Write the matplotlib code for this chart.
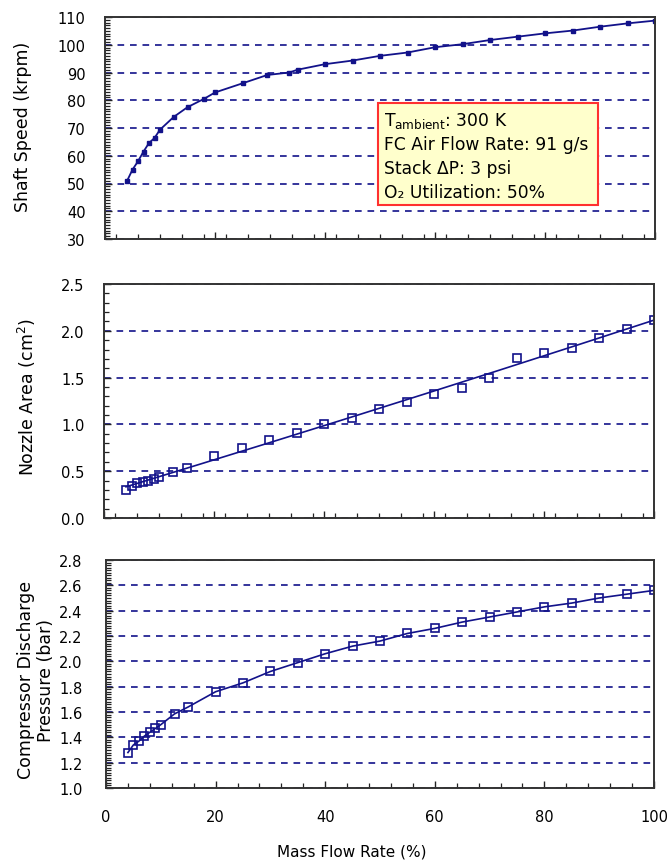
import numpy as np
import matplotlib
matplotlib.use("Agg")
import matplotlib.pyplot as plt
from matplotlib.ticker import MultipleLocator, FixedLocator, FormatStrFormatter
from matplotlib.patches import Rectangle

plt.rcParams['font.family'] = ['DejaVu Sans']

# shaft speed vs. mass flow (top panel)
speed_flow = [4, 5, 6, 7, 8, 9, 10, 12.5, 15, 18, 20, 25, 29.5, 33.5, 35, 40,
              45, 50, 55, 60, 65, 70, 75, 80, 85, 90, 95, 100]
speed = [50.9, 55.0, 58.0, 61.5, 64.6, 66.4, 69.4, 74.0, 77.5, 80.5, 82.8,
         86.1, 89.1, 90.0, 91.0, 93.0, 94.3, 96.0, 97.2, 99.1, 100.2, 101.7,
         102.9, 104.1, 105.1, 106.5, 107.7, 108.7]

# nozzle area and discharge pressure share the same flow points
flow = [4, 5, 6, 7, 8, 9, 10, 12.5, 15, 20, 25, 30, 35, 40, 45, 50, 55, 60,
        65, 70, 75, 80, 85, 90, 95, 100]
area = [0.30, 0.34, 0.37, 0.38, 0.40, 0.42, 0.44, 0.49, 0.53, 0.66, 0.75,
        0.83, 0.91, 1.00, 1.07, 1.16, 1.24, 1.33, 1.39, 1.50, 1.71, 1.76,
        1.82, 1.92, 2.02, 2.12]
pressure = [1.28, 1.34, 1.37, 1.41, 1.44, 1.47, 1.50, 1.585, 1.64, 1.76, 1.83,
            1.92, 1.99, 2.06, 2.12, 2.16, 2.22, 2.26, 2.31, 2.35, 2.39, 2.43,
            2.46, 2.50, 2.53, 2.56]

x_major = [0, 20, 40, 60, 80, 100]

navy = '#12128a'
W, H = 667, 862


def px_axes(fig, left, top, right, bottom):
    return fig.add_axes([left / W, 1 - bottom / H, (right - left) / W, (bottom - top) / H])


def style(ax, ylim, ymajor, yminor, xminor, ypad, show_x):
    ax.set_xlim(0, 100)
    ax.set_ylim(*ylim)
    ax.yaxis.set_major_locator(MultipleLocator(ymajor))
    ax.yaxis.set_minor_locator(MultipleLocator(yminor))
    ax.xaxis.set_major_locator(FixedLocator(x_major))
    ax.xaxis.set_minor_locator(FixedLocator(xminor))
    ax.tick_params(which='both', direction='in', width=1, color='#222222')
    ax.tick_params(which='major', length=5)
    ax.tick_params(which='minor', length=3.5, width=0.9)
    ax.tick_params(axis='y', pad=ypad, labelsize=10.5)
    ax.tick_params(axis='x', pad=15, labelsize=10.5, labelbottom=show_x)
    for s in ax.spines.values():
        s.set_linewidth(1.4)
        s.set_color('#333333')
    ax.yaxis.grid(True, color=navy, linestyle=(0, (4, 3.5)), linewidth=1.2)
    ax.set_axisbelow(True)


fig = plt.figure(figsize=(W / 100, H / 100), dpi=100)

# --- shaft speed ---
ax1 = px_axes(fig, 105, 18, 655, 240)
style(ax1, (30, 110), 10, 1, np.arange(2, 100, 4), 14, False)
ax1.plot(speed_flow, speed, color=navy, lw=1.3, marker='s', ms=2.2)

ax1.add_patch(Rectangle((0.496, 0.153), 0.40, 0.46, transform=ax1.transAxes,
                        facecolor='#ffffcc', edgecolor='#ff3030', lw=1.5, zorder=5))
box_lines = [r'T$_{\mathrm{ambient}}$: 300 K',
             'FC Air Flow Rate: 91 g/s',
             'Stack \u0394P: 3 psi',
             'O\u2082 Utilization: 50%']
for i, line in enumerate(box_lines):
    ax1.text(0.507, 0.5135 - i * 0.108, line, transform=ax1.transAxes,
             fontsize=12.3, va='baseline', ha='left', zorder=6)

# --- nozzle area ---
ax2 = px_axes(fig, 104, 285, 654, 519)
style(ax2, (0, 2.5), 0.5, 0.1, np.arange(2, 100, 4), 14, False)
ax2.yaxis.set_major_formatter(FormatStrFormatter('%.1f'))
coef = np.polyfit(flow, area, 2)
xs = np.linspace(flow[0], flow[-1], 200)
ax2.plot(xs, np.polyval(coef, xs), color=navy, lw=1.2)
ax2.plot(flow, area, ls='none', marker='s', ms=5.5, mfc='none', mec=navy, mew=1.2)

# --- discharge pressure ---
ax3 = px_axes(fig, 106, 561, 654, 789)
style(ax3, (1.0, 2.8), 0.2, 0.02, np.arange(4, 100, 4), 17, True)
ax3.yaxis.set_major_formatter(FormatStrFormatter('%.1f'))
ax3.plot(flow, pressure, color=navy, lw=1.2, marker='s', ms=5.5,
         mfc='none', mec=navy, mew=1.2)

# axis titles
fig.text(23 / W, 1 - 127 / H, 'Shaft Speed (krpm)', rotation=90,
         ha='center', va='center', fontsize=12.5)
fig.text(27 / W, 1 - 397 / H, 'Nozzle Area (cm$^2$)', rotation=90,
         ha='center', va='center', fontsize=12.5)
fig.text(36 / W, 1 - 680 / H, 'Compressor Discharge\nPressure (bar)', rotation=90,
         ha='center', va='center', fontsize=12.5, multialignment='center')
fig.text(352 / W, 1 - 852 / H, 'Mass Flow Rate (%)', ha='center', va='center',
         fontsize=11)

fig.savefig('out.png', dpi=100)
